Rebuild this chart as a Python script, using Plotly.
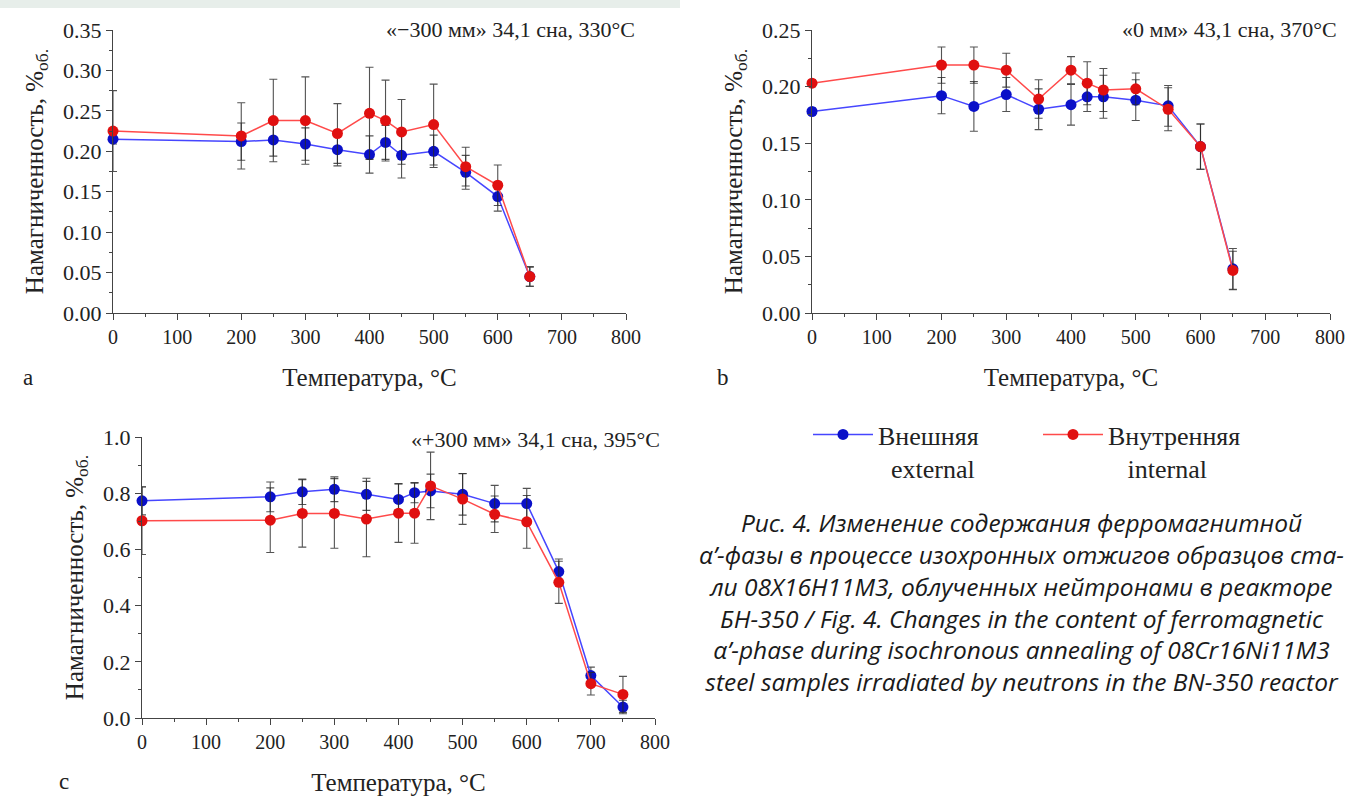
import plotly.graph_objects as go

# ---- data -----------------------------------------------------------------
temps_ab = [0, 200, 250, 300, 350, 400, 425, 450, 500, 550, 600, 650]
temps_c = [0, 200, 250, 300, 350, 400, 425, 450, 500, 550, 600, 650, 700, 750]

# panel a: «−300 мм»
a_ext = [0.215, 0.212, 0.214, 0.209, 0.202, 0.196, 0.211, 0.195, 0.200, 0.174, 0.144, 0.045]
a_ext_err = [0.006, 0.023, 0.020, 0.020, 0.020, 0.023, 0.021, 0.028, 0.020, 0.021, 0.018, 0.012]
a_int = [0.225, 0.219, 0.238, 0.238, 0.222, 0.247, 0.238, 0.224, 0.233, 0.181, 0.158, 0.045]
a_int_err = [0.050, 0.041, 0.051, 0.054, 0.037, 0.057, 0.050, 0.040, 0.050, 0.024, 0.025, 0.012]

# panel b: «0 мм»
b_ext = [0.178, 0.192, 0.1825, 0.193, 0.180, 0.184, 0.191, 0.191, 0.188, 0.183, 0.147, 0.039]
b_ext_err = [0.003, 0.016, 0.022, 0.015, 0.018, 0.018, 0.013, 0.019, 0.018, 0.018, 0.020, 0.018]
b_int = [0.203, 0.219, 0.219, 0.2145, 0.189, 0.2145, 0.203, 0.197, 0.198, 0.180, 0.147, 0.0376]
b_int_err = [0.003, 0.016, 0.016, 0.015, 0.017, 0.012, 0.019, 0.019, 0.014, 0.019, 0.020, 0.017]

# panel c: «+300 мм»
c_ext = [0.773, 0.787, 0.805, 0.814, 0.796, 0.778, 0.802, 0.808, 0.796, 0.763, 0.763, 0.521, 0.151, 0.039]
c_ext_err = [0.050, 0.053, 0.045, 0.044, 0.057, 0.056, 0.036, 0.060, 0.074, 0.065, 0.054, 0.045, 0.030, 0.024]
c_int = [0.702, 0.704, 0.728, 0.728, 0.708, 0.729, 0.729, 0.826, 0.779, 0.725, 0.698, 0.483, 0.122, 0.084]
c_int_err = [0.120, 0.115, 0.120, 0.124, 0.134, 0.104, 0.107, 0.120, 0.090, 0.065, 0.094, 0.075, 0.040, 0.064]

panel_titles = ["«−300 мм» 34,1 сна, 330°C", "«0 мм» 43,1 сна, 370°C", "«+300 мм» 34,1 сна, 395°C"]
panel_letters = ["a", "b", "c"]
series_names = ["Внешняя<br>\u00a0\u00a0external", "Внутренняя<br>\u00a0\u00a0\u00a0internal"]
x_title = "Температура, °C"
y_title = "Намагниченность, %<sub>об.</sub>"
caption_lines = [
    "Рис. 4. Изменение содержания ферромагнитной",
    "α’-фазы в процессе изохронных отжигов образцов ста-",
    "ли 08Х16Н11М3, облученных нейтронами в реакторе",
    "БН-350 / Fig. 4. Changes in the content of ferromagnetic",
    "α’-phase during isochronous annealing of 08Cr16Ni11M3",
    "steel samples irradiated by neutrons in the BN-350 reactor",
]

# ---- layout helpers -------------------------------------------------------
W, H = 1348, 796
SERIF = "Liberation Serif"


def px(x):
    return x / W


def py(y):
    return 1 - y / H


BLUE_LINE, BLUE_MARK = "#4646ff", "#0a10c8"
RED_LINE, RED_MARK = "#ff4a4a", "#e01010"
ERR_COLOR = "rgba(40,40,40,0.8)"

fig = go.Figure()

panels = [
    dict(x=temps_ab, ext=a_ext, ext_e=a_ext_err, inn=a_int, inn_e=a_int_err, ax="", ymax=0.35, dy=0.05,
         dom_x=(113, 626), dom_y=(313, 30), fmt=".2f"),
    dict(x=temps_ab, ext=b_ext, ext_e=b_ext_err, inn=b_int, inn_e=b_int_err, ax="2", ymax=0.25, dy=0.05,
         dom_x=(812, 1330), dom_y=(313, 30), fmt=".2f"),
    dict(x=temps_c, ext=c_ext, ext_e=c_ext_err, inn=c_int, inn_e=c_int_err, ax="3", ymax=1.0, dy=0.2,
         dom_x=(142, 655), dom_y=(718, 437), fmt=".1f"),
]

for i, p in enumerate(panels):
    xa, ya = "x" + p["ax"], "y" + p["ax"]
    for vals, errs, lc, mc, name in [
        (p["ext"], p["ext_e"], BLUE_LINE, BLUE_MARK, series_names[0]),
        (p["inn"], p["inn_e"], RED_LINE, RED_MARK, series_names[1]),
    ]:
        fig.add_trace(go.Scatter(
            x=p["x"], y=vals, xaxis=xa, yaxis=ya, mode="lines+markers", name=name,
            legendgroup=name, showlegend=(i == 0), cliponaxis=False,
            line=dict(color=lc, width=1.5),
            marker=dict(color=mc, size=11, line=dict(width=0)),
            error_y=dict(type="data", array=errs, visible=True, color=ERR_COLOR, thickness=1.1, width=4),
        ))

    axis_common = dict(showline=True, linecolor="#444", linewidth=1.2, showgrid=False, zeroline=False,
                       ticks="outside", ticklen=6, tickcolor="#444", tickwidth=1.2, automargin=False)
    fig.update_layout(**{
        "xaxis" + p["ax"]: dict(
            axis_common, domain=[px(p["dom_x"][0]), px(p["dom_x"][1])], range=[0, 800],
            anchor=ya, tick0=0, dtick=100,
            tickfont=dict(family=SERIF, size=20, color="#222"),
            minor=dict(dtick=50, ticks="outside", ticklen=3, tickcolor="#444"),
            title=dict(text=x_title, font=dict(family=SERIF, size=25, color="#222"), standoff=21),
        ),
        "yaxis" + p["ax"]: dict(
            axis_common, domain=[py(p["dom_y"][0]), py(p["dom_y"][1])], range=[0, p["ymax"]],
            anchor=xa, tick0=0, dtick=p["dy"], tickformat=p["fmt"],
            minor=dict(dtick=p["dy"] / 2, ticks="outside", ticklen=3, tickcolor="#444"),
            tickfont=dict(family=SERIF, size=22, color="#222"),
            title=dict(text=y_title, font=dict(family=SERIF, size=25, color="#222"), standoff=12),
        ),
    })

annotations = []
title_pos = [(637, 30), (1339, 30), (662, 439)]
for t, (tx, ty) in zip(panel_titles, title_pos):
    annotations.append(dict(text=t, x=px(tx), y=py(ty), xref="paper", yref="paper", xanchor="right",
                            yanchor="middle", showarrow=False,
                            font=dict(family=SERIF, size=22, color="#222")))
letter_pos = [(28, 377), (723, 377), (64, 781)]
for t, (tx, ty) in zip(panel_letters, letter_pos):
    annotations.append(dict(text=t, x=px(tx), y=py(ty), xref="paper", yref="paper", xanchor="center",
                            yanchor="middle", showarrow=False,
                            font=dict(family=SERIF, size=23, color="#222")))
# figure caption as one centred block
annotations.append(dict(text="<i>" + "<br>".join(caption_lines) + "</i>", x=px(1021), y=py(602),
                        xref="paper", yref="paper", xanchor="center", yanchor="middle", align="center",
                        showarrow=False, font=dict(family="Open Sans", size=24.5, color="#1a1a1a")))

fig.update_layout(
    width=W, height=H, margin=dict(l=0, r=0, t=0, b=0, autoexpand=False),
    paper_bgcolor="white", plot_bgcolor="white",
    annotations=annotations,
    shapes=[dict(type="rect", xref="paper", yref="paper", x0=0, x1=px(680), y0=py(8), y1=1,
                 fillcolor="#e7eeea", line=dict(width=0), layer="below")],
    showlegend=True,
    legend=dict(orientation="h", x=px(808), y=py(411), xanchor="left", yanchor="top",
                font=dict(family=SERIF, size=26, color="#222"), itemwidth=60,
                entrywidth=155, entrywidthmode="pixels",
                tracegroupgap=0, valign="top", bgcolor="rgba(0,0,0,0)"),
)

fig.write_html("out.html")
